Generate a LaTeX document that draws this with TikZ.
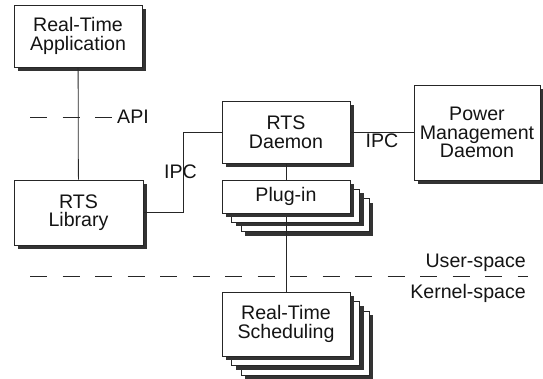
\documentclass[tikz,border=0pt]{standalone}
\usepackage{fontspec}
\setmainfont{Liberation Sans}
\usetikzlibrary{shadows}
\begin{document}
\begin{tikzpicture}[x=1pt,y=-1pt,
  box/.style={draw=black!85, line width=0.8pt, fill=white, align=center, inner sep=0pt,
    font=\fontsize{19.6}{18.6}\selectfont, text=black!92,
    drop shadow={shadow xshift=4pt, shadow yshift=-4pt, fill=black!80, opacity=1}},
  lbl/.style={inner sep=0pt, font=\fontsize{19.6}{18.6}\selectfont, text=black!92},
  wire/.style={draw=black!85, line width=0.8pt},
  sep/.style={draw=black!85, line width=0.8pt, dash pattern=on 17pt off 15.5pt}]
\useasboundingbox (0,0) rectangle (543,378);

% top-left
\node[box, minimum width=128pt, minimum height=62pt] (app) at (78,36) {Real-Time\\Application};
\node[box, minimum width=129pt, minimum height=65pt] (lib) at (78.5,212.5) {RTS\\Library};
\node[box, minimum width=128pt, minimum height=62pt] (daemon) at (286,132) {RTS\\Daemon};
\node[box, minimum width=126pt, minimum height=95pt] (power) at (477,132.5) {Power\\Management\\Daemon};

% scheduling stack
\node[box, minimum width=128pt, minimum height=64pt] (sched3) at (305,343) {};
\node[box, minimum width=128pt, minimum height=64pt] (sched2) at (295.5,333.5) {};
\node[box, minimum width=128pt, minimum height=64pt] (sched) at (286,324) {Real-Time\\Scheduling};

% plug-in back layers
\node[box, minimum width=128pt, minimum height=33pt] (plug3) at (305,215) {};
\node[box, minimum width=128pt, minimum height=33pt] (plug2) at (295.5,205.75) {};

% connectors
\draw[wire] (app) -- (lib);
\draw[wire] (lib.east) -- ++(40,0) |- (daemon.west);
\draw[wire] (daemon.east) -- (power.west |- daemon.east);
\draw[wire] (daemon.south) -- (sched.north);

% plug-in front
\node[box, minimum width=128pt, minimum height=33pt] (plug) at (286,196.5) {Plug-in};

% separators
\coordinate (api1) at (30,117);
\coordinate (api2) at (112,117);
\draw[sep] (api1) -- (api2);
\coordinate (us1) at (30,276);
\coordinate (us2) at (528,276);
\draw[sep] (us1) -- (us2);

% labels
\node[lbl, anchor=west] (apil) at (117,117) {API};
\node[lbl] (ipc1) at (180.5,172) {IPC};
\node[lbl] (ipc2) at (382,141) {IPC};
\node[lbl, anchor=east] (user) at (526,263) {User-space};
\node[lbl, anchor=east] (kernel) at (526,293) {Kernel-space};
\end{tikzpicture}
\end{document}
